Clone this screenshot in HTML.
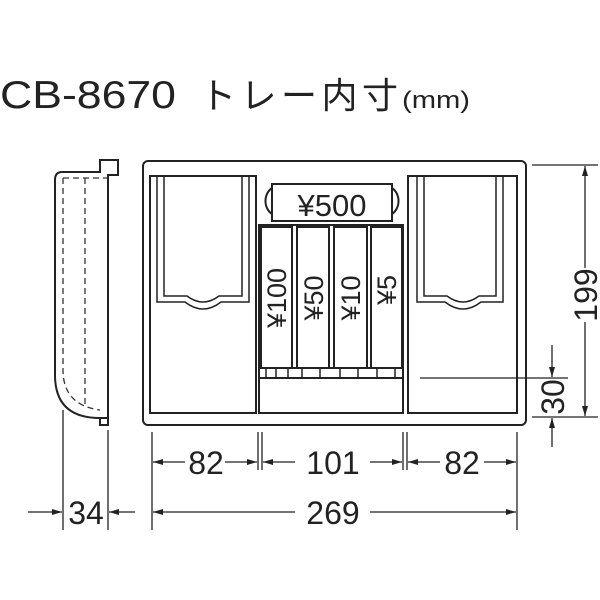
<!DOCTYPE html>
<html><head><meta charset="utf-8"><style>
html,body{margin:0;padding:0;background:#fff;}
svg{display:block}
text{font-family:"Liberation Sans","Noto Sans CJK JP",sans-serif;fill:#222}
</style></head><body>
<svg width="600" height="600" viewBox="0 0 600 600" xmlns="http://www.w3.org/2000/svg">
<defs>
<marker id="a" viewBox="0 0 10 6" refX="10" refY="3" markerWidth="10" markerHeight="6" orient="auto" markerUnits="userSpaceOnUse"><path d="M0,0 L10,3 L0,6z" fill="#222"/></marker>
</defs>
<text x="0" y="108" font-size="39" textLength="176" lengthAdjust="spacingAndGlyphs">CB-8670</text>
<text x="200" y="108" font-size="36" textLength="198" lengthAdjust="spacing">トレー内寸</text>
<text x="402" y="108" font-size="24" textLength="68" lengthAdjust="spacingAndGlyphs">(mm)</text>

<g fill="none" stroke="#222" stroke-width="2">
<path d="M100,172 L62,172 Q55,172 55,180 L55,375 Q55,418 100,418 L108,418 L108,175 L118,175 L118,160 L100,160 Z"/>
<path d="M100,418 L100,425 L108,425 L108,418"/>
</g>
<g fill="none" stroke="#333" stroke-width="1.3" stroke-dasharray="6,4">
<path d="M63,178 L63,370 Q63,405 100,410"/>
<path d="M63,178 L108,178"/>
<path d="M85,178 L85,405"/>
</g>

<g fill="none" stroke="#222" stroke-width="2">
<rect x="143" y="161" width="383" height="264" rx="5"/>
<rect x="150" y="176" width="106" height="237"/>
<rect x="408" y="176" width="109" height="237"/>
<path d="M259,413 L259,225 L403,225 L403,413 Z"/>
<path d="M259,378 L403,378"/>
<path d="M259,368 L403,368"/>
<rect x="261" y="227" width="31" height="141"/>
<rect x="297" y="227" width="32" height="141"/>
<rect x="334" y="227" width="33" height="141"/>
<rect x="371" y="227" width="31" height="141"/>
<path d="M272,184 L392,184 L392,221 L272,221 Z"/>
<path d="M272,188 A13,15 0 0 0 272,214"/>
<path d="M392,188 A13,15 0 0 1 392,214"/>
</g>
<g fill="none" stroke="#222" stroke-width="1.5">
<path d="M266,368 v10 M276,368 v10 M288,368 v10 M302,368 v10 M320,368 v10 M340,368 v10 M358,368 v10 M377,368 v10 M395,368 v10"/>
<path d="M157,176 L157,302 L185,302 Q203,316 221,302 L249,302 L249,176"/>
<path d="M164,176 L164,296 L187,296 Q203,308 219,296 L242,296 L242,176"/>
<path d="M417,176 L417,302 L445,302 Q463,316 481,302 L503,302 L503,176"/>
<path d="M424,176 L424,296 L447,296 Q463,308 479,296 L496,296 L496,176"/>
</g>
<text x="332" y="216" font-size="31" text-anchor="middle">¥500</text>
<g font-size="27">
<text transform="translate(286,298) rotate(-90)" text-anchor="middle">¥100</text>
<text transform="translate(323,298) rotate(-90)" text-anchor="middle">¥50</text>
<text transform="translate(360,298) rotate(-90)" text-anchor="middle">¥10</text>
<text transform="translate(396,290) rotate(-90)" text-anchor="middle">¥5</text>
</g>

<g stroke="#222" stroke-width="1.3" fill="none">
<path d="M532,165 L598,165 M532,417 L598,417"/>
<path d="M585,268 L585,166" marker-end="url(#a)"/>
<path d="M585,322 L585,416" marker-end="url(#a)"/>
<path d="M420,378 L568,378"/>
<path d="M552,345 L552,377" marker-end="url(#a)"/>
<path d="M552,447 L552,418" marker-end="url(#a)"/>
<path d="M152,432 L152,530 M517,432 L517,530 M258,432 L258,470 M262,432 L262,470 M403,432 L403,470 M407,432 L407,470"/>
<path d="M185,462 L153,462" marker-end="url(#a)"/>
<path d="M225,462 L257,462" marker-end="url(#a)"/>
<path d="M295,462 L263,462" marker-end="url(#a)"/>
<path d="M370,462 L402,462" marker-end="url(#a)"/>
<path d="M440,462 L408,462" marker-end="url(#a)"/>
<path d="M484,462 L516,462" marker-end="url(#a)"/>
<path d="M295,512 L153,512" marker-end="url(#a)"/>
<path d="M370,512 L516,512" marker-end="url(#a)"/>
<path d="M63,410 L63,530 M108,430 L108,530"/>
<path d="M28,512 L62,512" marker-end="url(#a)"/>
<path d="M135,512 L109,512" marker-end="url(#a)"/>
</g>
<g font-size="32" text-anchor="middle">
<text x="206" y="474">82</text>
<text x="333" y="474">101</text>
<text x="462" y="474">82</text>
<text x="333" y="524">269</text>
<text x="86" y="524">34</text>
<text transform="translate(597,295) rotate(-90)">199</text>
<text transform="translate(564,397) rotate(-90)">30</text>
</g>
</svg>
</body></html>
